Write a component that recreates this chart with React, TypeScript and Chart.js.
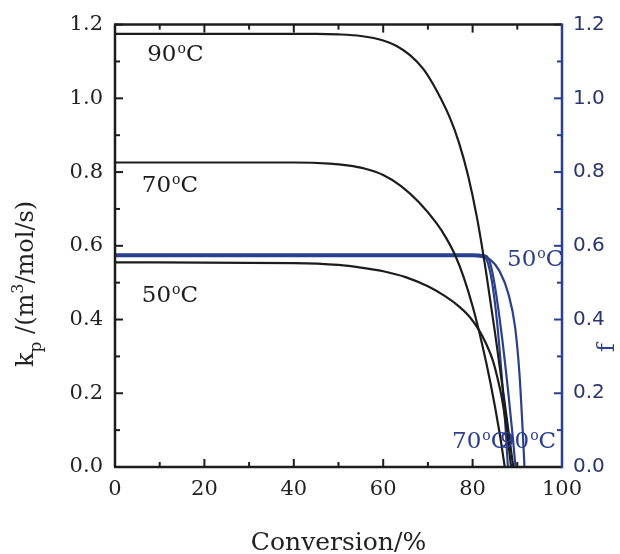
import React, { useEffect, useRef } from "react";
import { Chart, registerables } from "chart.js";

Chart.register(...registerables);

// k_p curves (left axis)
const kp90Conv = [0, 45, 50, 55, 60, 63, 66, 69, 72, 75, 77, 79, 81, 83, 85, 87, 89.1];
const kp90Val = [1.175, 1.175, 1.1735, 1.169, 1.157, 1.142, 1.117, 1.079, 1.02, 0.945, 0.878, 0.79, 0.675, 0.53, 0.365, 0.19, 0];
const kp70Conv = [0, 40, 48, 52, 56, 60, 64, 68, 72, 74, 76, 78, 80, 82, 84, 86, 87.2];
const kp70Val = [0.826, 0.826, 0.823, 0.818, 0.809, 0.792, 0.762, 0.718, 0.66, 0.623, 0.577, 0.515, 0.436, 0.34, 0.228, 0.095, 0];
const kp50Conv = [0, 40, 50, 55, 60, 65, 70, 74, 77, 79.5, 81.5, 83, 84.5, 85.5, 86.5, 87.3, 88, 88.6];
const kp50Val = [0.555, 0.553, 0.548, 0.541, 0.531, 0.515, 0.49, 0.462, 0.435, 0.405, 0.37, 0.335, 0.29, 0.245, 0.19, 0.13, 0.065, 0];

// f curves (right axis)
const f50Conv = [0, 80, 82, 84, 86, 88, 89.5, 90.5, 91.2, 91.6];
const f50Val = [0.572, 0.572, 0.57, 0.562, 0.532, 0.47, 0.38, 0.25, 0.1, 0];
const f70Conv = [0, 80, 82.5, 83.5, 84.5, 85.5, 86.5, 87.3, 87.9];
const f70Val = [0.576, 0.576, 0.573, 0.55, 0.49, 0.39, 0.25, 0.12, 0];
const f90Conv = [0, 80, 83, 84, 85, 86.5, 88, 89, 89.6];
const f90Val = [0.576, 0.576, 0.573, 0.55, 0.49, 0.36, 0.2, 0.08, 0];

// tick values
const xMajorTicks = [0, 20, 40, 60, 80, 100];
const xMinorTicks = [10, 30, 50, 70, 90];
const yMajorTicks = [0, 0.2, 0.4, 0.6, 0.8, 1.0, 1.2];
const yMinorTicks = [0.1, 0.3, 0.5, 0.7, 0.9, 1.1];

// curve annotations
const labelTexts = ["90", "70", "50", "50", "70", "90"];
const labelConv = [7.2, 6.0, 6.0, 87.7, 75.4, 86.1];
const labelVal = [1.102, 0.745, 0.447, 0.544, 0.051, 0.051];
const labelAxis = ["y", "y", "y", "y1", "y1", "y1"];

const BLACK = "#1c1c1c";
const BLUE = "#2a3f8e";
const SERIF = '"DejaVu Serif", serif';
const SANS = '"DejaVu Sans", sans-serif';

const pts = (xs: number[], ys: number[]) => xs.map((x, i) => ({ x, y: ys[i] }));

const decor = {
  id: "decor",
  afterDraw(chart: any) {
    const { ctx, chartArea: a, scales } = chart;
    const x = scales.x, yl = scales.y, yr = scales.y1;
    ctx.save();
    const line = (x1: number, y1: number, x2: number, y2: number, c: string, w: number) => {
      ctx.strokeStyle = c;
      ctx.lineWidth = w;
      ctx.beginPath();
      ctx.moveTo(x1, y1);
      ctx.lineTo(x2, y2);
      ctx.stroke();
    };
    // ticks
    const xt = (vals: number[], len: number) => vals.forEach((v) => {
      const px = x.getPixelForValue(v);
      line(px, a.bottom, px, a.bottom - len, BLACK, 2);
      line(px, a.top, px, a.top + len, BLACK, 2);
    });
    xt(xMajorTicks, 8);
    xt(xMinorTicks, 5);
    const yt = (vals: number[], len: number) => vals.forEach((v) => {
      const pl = yl.getPixelForValue(v);
      line(a.left, pl, a.left + len, pl, BLACK, 2);
      const pr = yr.getPixelForValue(v);
      line(a.right, pr, a.right - len, pr, BLUE, 2);
    });
    yt(yMajorTicks, 8);
    yt(yMinorTicks, 5);
    // spines
    line(a.left - 1, a.top, a.right, a.top, BLACK, 2.5);
    line(a.left, a.top, a.left, a.bottom, BLACK, 2.5);
    line(a.left - 1, a.bottom, a.right, a.bottom, BLACK, 2.5);
    line(a.right, a.top - 1.2, a.right, a.bottom + 1.2, BLUE, 2.5);

    // annotations
    ctx.textBaseline = "alphabetic";
    ctx.textAlign = "left";
    labelTexts.forEach((t, i) => {
      const sc = labelAxis[i] === "y" ? yl : yr;
      let px = x.getPixelForValue(labelConv[i]);
      const py = sc.getPixelForValue(labelVal[i]);
      ctx.fillStyle = labelAxis[i] === "y" ? BLACK : BLUE;
      ctx.font = `23px ${SERIF}`;
      ctx.fillText(t, px, py);
      px += ctx.measureText(t).width + 1;
      ctx.font = `14px ${SERIF}`;
      ctx.fillText("o", px, py - 8);
      px += ctx.measureText("o").width;
      ctx.font = `23px ${SERIF}`;
      ctx.fillText("C", px, py);
    });

    // x title
    ctx.fillStyle = "#222";
    ctx.font = `25px ${SERIF}`;
    ctx.textAlign = "center";
    ctx.fillText("Conversion/%", (a.left + a.right) / 2, 550);

    // left title (rotated)
    ctx.save();
    ctx.translate(33, 367);
    ctx.rotate(-Math.PI / 2);
    ctx.textAlign = "left";
    let c = 0;
    const seg = (t: string, size: number, dy: number) => {
      ctx.font = `${size}px ${SERIF}`;
      ctx.fillText(t, c, dy);
      c += ctx.measureText(t).width;
    };
    seg("k", 24, 0);
    seg("p", 17, 8);
    seg(" /(m", 24, 0);
    seg("3", 16, -10);
    seg("/mol/s)", 24, 0);
    ctx.restore();

    // right title
    ctx.save();
    ctx.translate(614, 352);
    ctx.rotate(-Math.PI / 2);
    ctx.fillStyle = BLUE;
    ctx.font = `24px ${SERIF}`;
    ctx.textAlign = "left";
    ctx.fillText("f", 0, 0);
    ctx.restore();

    ctx.restore();
  },
};

export default function App() {
  const ref = useRef<HTMLCanvasElement>(null);
  useEffect(() => {
    const mk = (label: string, xs: number[], ys: number[], color: string, axis: string) => ({
      label,
      data: pts(xs, ys),
      borderColor: color,
      borderWidth: 2.2,
      pointRadius: 0,
      fill: false,
      cubicInterpolationMode: "monotone" as const,
      yAxisID: axis,
    });
    const chart = new Chart(ref.current!, {
      type: "line",
      data: {
        datasets: [
          mk("kp 90", kp90Conv, kp90Val, BLACK, "y"),
          mk("kp 70", kp70Conv, kp70Val, BLACK, "y"),
          mk("kp 50", kp50Conv, kp50Val, BLACK, "y"),
          mk("f 50", f50Conv, f50Val, BLUE, "y1"),
          mk("f 70", f70Conv, f70Val, BLUE, "y1"),
          mk("f 90", f90Conv, f90Val, BLUE, "y1"),
        ],
      },
      options: {
        animation: false,
        responsive: false,
        layout: { padding: { top: 24, left: 0, right: 0, bottom: 0 } },
        plugins: { legend: { display: false }, tooltip: { enabled: false } },
        scales: {
          x: {
            type: "linear",
            min: 0,
            max: 100,
            grid: { display: false, drawTicks: false },
            border: { display: false },
            ticks: {
              stepSize: 20,
              autoSkip: false,
              maxRotation: 0,
              padding: 10,
              color: "#222",
              font: { family: SERIF, size: 21 },
            },
            afterFit: (s: any) => { s.height = 87; },
          },
          y: {
            type: "linear",
            position: "left",
            min: 0,
            max: 1.2,
            grid: { display: false, drawTicks: false },
            border: { display: false },
            ticks: {
              stepSize: 0.2,
              padding: 12,
              color: "#222",
              font: { family: SERIF, size: 21 },
              callback: (v: any) => Number(v).toFixed(1),
            },
            afterFit: (s: any) => { s.width = 115; },
          },
          y1: {
            type: "linear",
            position: "right",
            min: 0,
            max: 1.2,
            grid: { display: false, drawTicks: false },
            border: { display: false },
            ticks: {
              stepSize: 0.2,
              padding: 11,
              color: "#2a3570",
              font: { family: SANS, size: 20 },
              callback: (v: any) => Number(v).toFixed(1),
            },
            afterFit: (s: any) => { s.width = 58; },
          },
        },
      },
      plugins: [decor],
    });
    return () => chart.destroy();
  }, []);
  return (
    <div style={{ position: "fixed", left: 0, top: 0, width: 620, height: 554, background: "#fff" }}>
      <canvas ref={ref} width={620} height={554} style={{ display: "block" }} />
    </div>
  );
}
